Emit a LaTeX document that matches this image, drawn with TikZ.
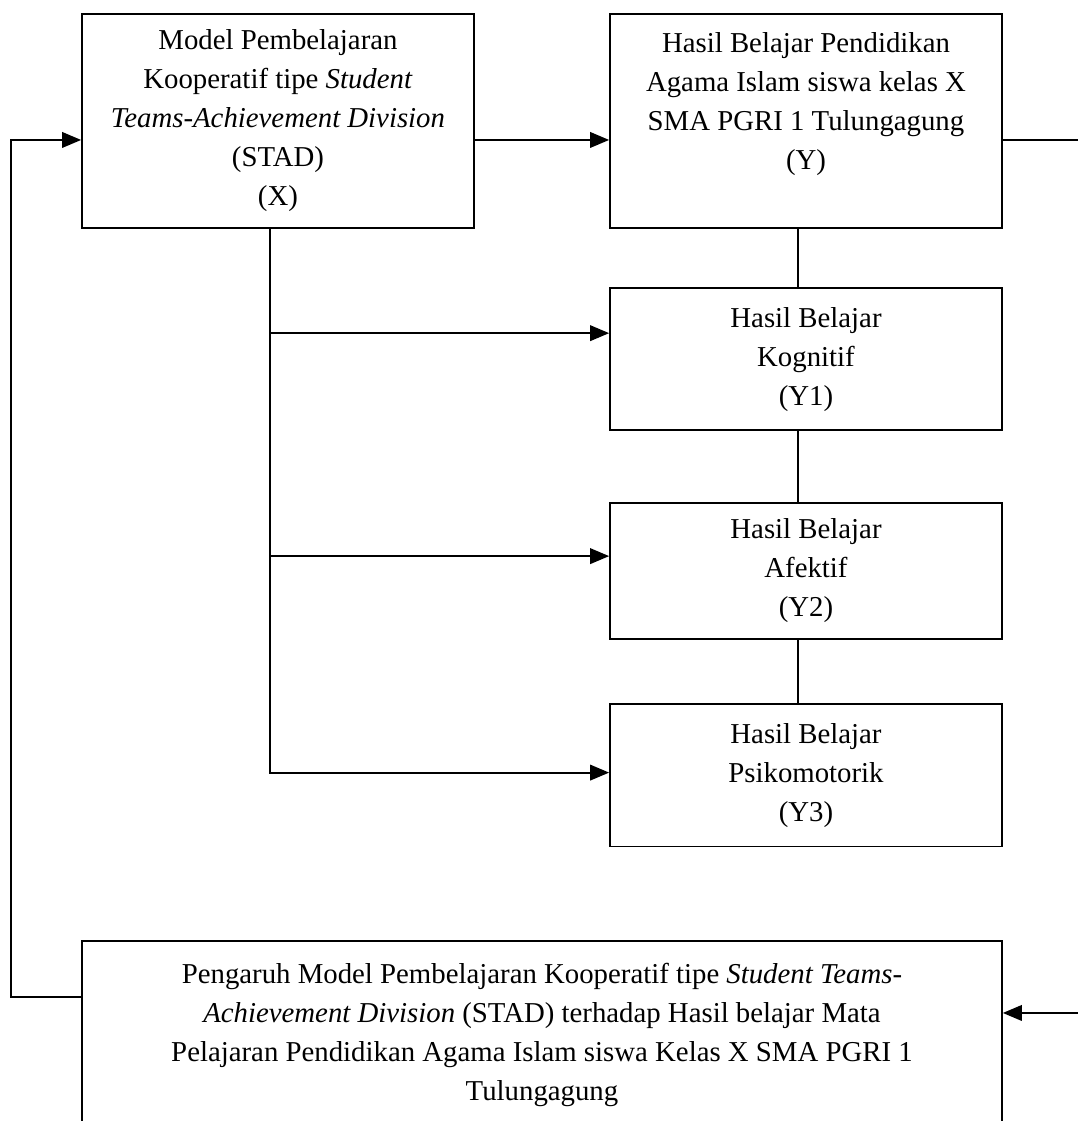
\documentclass[tikz,border=0pt]{standalone}
\usepackage{fontspec}
\setmainfont{Liberation Serif}
\usetikzlibrary{shapes.geometric, arrows, positioning, calc}
\tikzstyle{varbox} = [rectangle, minimum width=163.3pt, minimum height=89.2pt, text centered, align=center, draw=black, line width=0.8pt, inner sep=2pt, font=\fontsize{12}{16.25}\selectfont]
\tikzstyle{arrow} = [line width=0.8pt,->,>=triangle 45]
\tikzstyle{link} = [line width=0.8pt]

\begin{document}
\begin{tikzpicture}[node distance=90pt]
    \useasboundingbox (-115.83pt,50.42pt) rectangle (333.33pt,-416.67pt);
    \clip (-115.83pt,50.42pt) rectangle (333.33pt,-416.67pt);

    \node (x) [varbox] {Model Pembelajaran\\ Kooperatif tipe \textit{Student}\\ \textit{Teams-Achievement Division}\\ (STAD)\\ (X)};
    \node (y) [varbox, right of=x, xshift=130pt] {Hasil Belajar Pendidikan\\ Agama Islam siswa kelas X\\ SMA PGRI 1 Tulungagung\\ (Y)\\ ~};
    \node (y1) [varbox, below of=y, yshift=-9.2pt, minimum height=59.2pt] {Hasil Belajar\\ Kognitif\\ (Y1)};
    \node (y2) [varbox, below of=y1, yshift=1.7pt, minimum height=56.7pt] {Hasil Belajar\\ Afektif\\ (Y2)};
    \node (y3) [varbox, below of=y2, yshift=4.8pt, minimum height=59.2pt] {Hasil Belajar\\ Psikomotorik\\ (Y3)};
    \node (pengaruh) [varbox, anchor=north, minimum width=383.3pt, minimum height=78pt] at (110pt,-341.25pt) {Pengaruh Model Pembelajaran Kooperatif tipe \textit{Student Teams-}\\ \textit{Achievement Division} (STAD) terhadap Hasil belajar Mata\\ Pelajaran Pendidikan Agama Islam siswa Kelas X SMA PGRI 1\\ Tulungagung};

    \draw [arrow] ([yshift=-7.9pt]x.east) -- ([yshift=-7.9pt]y.west);
    \draw [link] ([xshift=-3.3pt]y.south) -- ([xshift=-3.3pt]y1.north);
    \draw [link] ([xshift=-3.3pt]y1.south) -- ([xshift=-3.3pt]y2.north);
    \draw [link] ([xshift=-3.3pt]y2.south) -- ([xshift=-3.3pt]y3.north);
    \draw [arrow] ([xshift=-3.3pt]x.south) |- ([yshift=10.8pt]y1.west);
    \draw [arrow] ([xshift=-3.3pt]x.south) |- ([yshift=6.2pt]y2.west);
    \draw [arrow] ([xshift=-3.3pt]x.south) |- ([yshift=1.2pt]y3.west);
    % feedback
    \draw [arrow] ([yshift=-7.9pt]y.east) -- ++(36.7pt,0) |- ([yshift=9pt]pengaruh.east);
    \draw [arrow] ([yshift=15.6pt]pengaruh.west) -- ++(-29.2pt,0) |- ([yshift=-7.9pt]x.west);
\end{tikzpicture}
\end{document}
